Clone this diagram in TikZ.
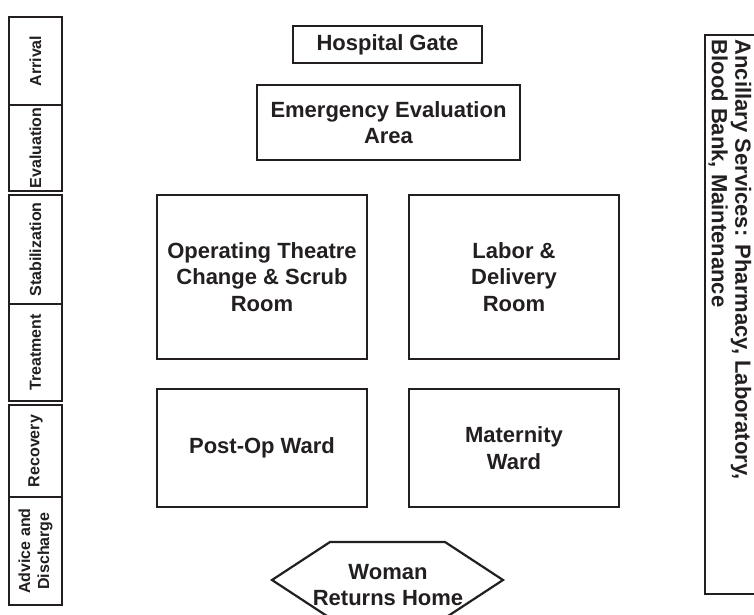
\documentclass[tikz,border=0pt]{standalone}
\usepackage{fontspec}
\setmainfont{Liberation Sans}
\usepackage{tikz}
\definecolor{HospitalLine}{HTML}{231F20}
\definecolor{HospitalText}{HTML}{231F20}

\begin{document}
\begin{tikzpicture}[x=1pt,y=-1pt,
    room/.style={draw=HospitalLine,line width=1.3pt,text=HospitalText,align=center,inner sep=0pt,
      font=\bfseries\fontsize{22}{26.5}\selectfont},
    stage/.style={draw=HospitalLine,line width=1.4pt,text=HospitalText,align=center,inner sep=0pt,
      rotate=90,minimum height=53,font=\bfseries\fontsize{16}{19}\selectfont}]
      \useasboundingbox (0,0) rectangle (754,614);

      % stages of care, left margin
      \node[stage,minimum width=88] (arrival) at (35.5,61) {Arrival};
      \node[stage,minimum width=86] (evaluation) at (35.5,148) {Evaluation};
      \node[stage,minimum width=109] (stabilization) at (35.5,249.5) {Stabilization};
      \node[stage,minimum width=97] (treatment) at (35.5,352.5) {Treatment};
      \node[stage,minimum width=92] (recovery) at (35.5,451) {Recovery};
      \node[stage,minimum width=108] (discharge) at (35.5,551) {Advice and\\Discharge};

      % rooms
      \node[room,line width=2.2pt,minimum width=189,minimum height=37] (gate) at (387.5,44.5) {Hospital Gate};
      \node[room,minimum width=263,minimum height=75] (emergency) at (388.5,122.5) {Emergency Evaluation\\Area};
      \node[room,minimum width=210,minimum height=164] (theatre) at (262,277) {Operating Theatre\\Change \& Scrub\\Room};
      \node[room,minimum width=210,minimum height=164] (labour) at (514,277) {Labor \&\\Delivery\\Room};
      \node[room,minimum width=210,minimum height=118] (postop) at (262,448) {Post-Op Ward};
      \node[room,minimum width=210,minimum height=118] (maternity) at (514,448) {Maternity\\Ward};

      % way out
      \draw[HospitalLine,line width=2.2pt,line join=miter] (272,580) -- (330,542) -- (445,542) -- (503,580) -- (445,618) -- (330,618) -- cycle;
      \node[room,draw=none] (home) at (388,585) {Woman\\Returns Home};

      % ancillary services, right margin
      \draw[HospitalLine,line width=1.4pt] (705,35) rectangle (775,594);
      \node[room,draw=none,align=left,rotate=-90,anchor=west,font=\bfseries\fontsize{22}{23.5}\selectfont] (ancillary) at (730,39) {Ancillary Services: Pharmacy, Laboratory,\\Blood Bank, Maintenance};
    \end{tikzpicture}
\end{document}
